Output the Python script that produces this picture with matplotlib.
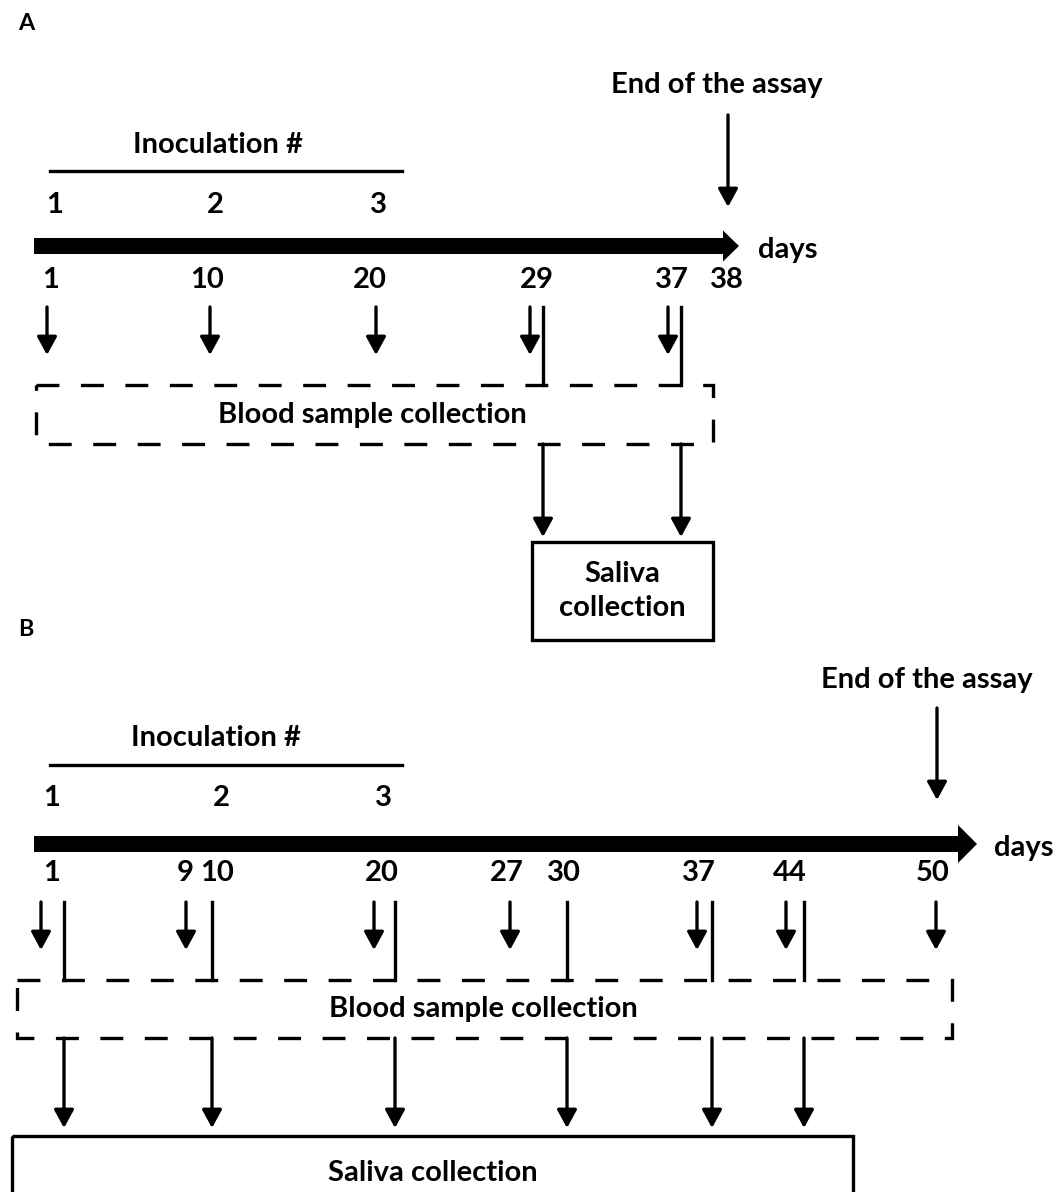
import matplotlib.pyplot as plt
from matplotlib.patches import FancyArrowPatch, Rectangle

plt.rcParams["font.family"] = ["Lato", "DejaVu Sans"]
plt.rcParams["font.weight"] = "bold"
plt.rcParams["lines.scale_dashes"] = False

# ---- datos del esquema ----
inoculaciones = [1, 2, 3]

# panel A
dias_a = [1, 10, 20, 29, 37, 38]
sangre_a = [1, 10, 20, 29, 37]
saliva_a = [29, 37]
fin_a = 38

# panel B
dias_b = [1, 9, 10, 20, 27, 30, 37, 44, 50]
sangre_b = [1, 9, 20, 27, 37, 44, 50]
saliva_b = [1, 10, 20, 30, 37, 44]
fin_b = 50

# ---- posiciones horizontales del esquema (px), no proporcionales ----
pos_a = {
    "inoc": [55, 215, 378],
    "etiq": dict(zip(dias_a, [51, 207, 370, 537, 672, 727])),
    "sangre": dict(zip(sangre_a, [47, 210, 376, 530, 668])),
    "saliva": dict(zip(saliva_a, [543, 681])),
    "fin": 728,
}
pos_b = {
    "inoc": [52, 221, 383],
    "etiq": dict(zip(dias_b, [52, 185, 217, 382, 507, 564, 699, 790, 933])),
    "sangre": dict(zip(sangre_b, [41, 186, 374, 510, 697, 786, 936])),
    "saliva": dict(zip(saliva_b, [64, 212, 395, 567, 712, 804])),
    "fin": 937,
}

W, H = 1061, 1192
fig = plt.figure(figsize=(W / 100, H / 100), dpi=100)
ax = fig.add_axes([0, 0, 1, 1])
ax.set_xlim(0, W)
ax.set_ylim(H, 0)
ax.axis("off")

FS = 21
LW = 2.4


def flecha(x, y0, y1, lw=LW, ms=20):
    ax.add_patch(FancyArrowPatch((x, y0), (x, y1),
                                 arrowstyle="-|>,head_length=0.55,head_width=0.3",
                                 mutation_scale=ms, lw=lw, color="black",
                                 shrinkA=0, shrinkB=0))


def panel(letra, dias, sangre, saliva, fin, pos, cfg):
    ax.text(18, cfg["letra_y"], letra, fontsize=FS * 0.8, ha="left", va="center")

    # fin del ensayo
    ax.text(cfg["fin_txt_x"], cfg["fin_txt_y"], "End of the assay",
            fontsize=FS, ha="center", va="center")
    flecha(pos["fin"], cfg["fin_y0"], cfg["fin_y1"])

    # inoculaciones
    ax.text(cfg["inoc_txt_x"], cfg["inoc_y"], "Inoculation #",
            fontsize=FS, ha="center", va="center")
    ax.plot([50, 402], [cfg["inoc_linea"]] * 2, color="black", lw=LW)
    for n, x in zip(inoculaciones, pos["inoc"]):
        ax.text(x, cfg["inoc_num"], str(n), fontsize=FS, ha="center", va="center")

    # eje temporal
    y = cfg["eje"]
    ax.arrow(34, y, cfg["punta"] - 34, 0, width=16, head_width=cfg["cabeza"],
             head_length=cfg["cabeza_l"], length_includes_head=True,
             color="black", lw=0)
    ax.text(cfg["days_x"], y + 4, "days", fontsize=FS, ha="center", va="center")
    for d in dias:
        ax.text(pos["etiq"][d], cfg["etiq_y"], str(d), fontsize=FS,
                ha="center", va="center")

    # muestras de sangre
    for d in sangre:
        flecha(pos["sangre"][d], cfg["fl_y0"], cfg["fl_y1"])

    # caja punteada
    bx0, bx1, by0, by1 = cfg["caja"]
    ax.add_patch(Rectangle((bx0, by0), bx1 - bx0, by1 - by0, fill=False,
                           ec="black", lw=LW, linestyle=(0, (16.5, 15.5))))
    ax.text(cfg["sangre_txt_x"], (by0 + by1) / 2, "Blood sample collection",
            fontsize=FS, ha="center", va="center")

    # saliva
    for d in saliva:
        x = pos["saliva"][d]
        ax.plot([x, x], [cfg["fl_y0"], by0], color="black", lw=LW)
        flecha(x, by1, cfg["sal_y1"])
    sx0, sx1, sy0, sy1 = cfg["sal_caja"]
    ax.add_patch(Rectangle((sx0, sy0), sx1 - sx0, sy1 - sy0, fill=False,
                           ec="black", lw=LW))
    ax.text((sx0 + sx1) / 2, cfg["sal_txt_y"], cfg["sal_txt"], fontsize=FS,
            ha="center", va="center", linespacing=1.35)


panel("A", dias_a, sangre_a, saliva_a, fin_a, pos_a, dict(
    letra_y=23, fin_txt_x=717, fin_txt_y=85, fin_y0=115, fin_y1=207,
    inoc_txt_x=218, inoc_y=145, inoc_linea=171, inoc_num=205,
    eje=246, punta=739, cabeza=31, cabeza_l=16, days_x=788, etiq_y=280,
    fl_y0=307, fl_y1=355, caja=(36, 713, 385, 444), sangre_txt_x=372,
    sal_y1=537, sal_caja=(532, 713, 542, 640), sal_txt_y=591,
    sal_txt="Saliva\ncollection"))

panel("B", dias_b, sangre_b, saliva_b, fin_b, pos_b, dict(
    letra_y=630, fin_txt_x=927, fin_txt_y=680, fin_y0=708, fin_y1=800,
    inoc_txt_x=216, inoc_y=738, inoc_linea=765, inoc_num=798,
    eje=844, punta=977, cabeza=38, cabeza_l=19, days_x=1024, etiq_y=873,
    fl_y0=902, fl_y1=950, caja=(17, 952, 980, 1038), sangre_txt_x=483,
    sal_y1=1128, sal_caja=(12, 853, 1136, 1240), sal_txt_y=1173,
    sal_txt="Saliva collection"))

fig.savefig("out.png", dpi=100)
